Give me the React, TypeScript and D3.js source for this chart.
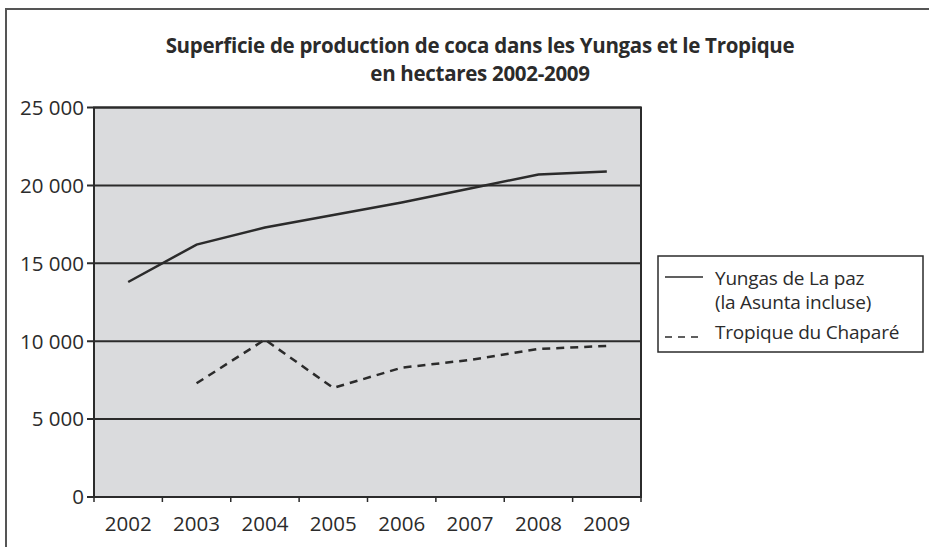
import React from "react";
import * as d3 from "d3";

const years = ["2002", "2003", "2004", "2005", "2006", "2007", "2008", "2009"];
const yungas: (number | null)[] = [13800, 16200, 17300, 18100, 18900, 19800, 20700, 20900];
const chapare: (number | null)[] = [null, 7300, 10100, 7000, 8300, 8800, 9500, 9700];
const yTicks = [0, 5000, 10000, 15000, 20000, 25000];

const W = 929;
const H = 547;
const FONT = "'Open Sans', 'Noto Sans', sans-serif";
const INK = "#2b2b2b";

const fmt = (v: number) => (v >= 1000 ? `${Math.floor(v / 1000)} ${String(v % 1000).padStart(3, "0")}` : `${v}`);

export default function App() {
  const x = d3.scaleBand<string>().domain(years).range([94, 641]).padding(0);
  const y = d3.scaleLinear().domain([0, 25000]).range([497, 107.5]);
  const cx = (yr: string) => (x(yr) ?? 0) + x.bandwidth() / 2;

  const line = d3
    .line<number | null>()
    .defined((d) => d != null)
    .x((_d, i) => cx(years[i]))
    .y((d) => y(d as number));

  return (
    <svg width={W} height={H} style={{ position: "absolute", left: 0, top: 0, background: "#fff" }}>
      {/* outer frame */}
      <path d={`M6,${H} V9 H${W}`} fill="none" stroke="#555" strokeWidth={2} />

      <g fontFamily={FONT} fontWeight="bold" fontSize={20.5} fill={INK} letterSpacing={-0.3} textAnchor="middle">
        <text x={480} y={53}>Superficie de production de coca dans les Yungas et le Tropique</text>
        <text x={480} y={81}>en hectares 2002-2009</text>
      </g>

      <rect x={94} y={y(25000)} width={641 - 94} height={y(0) - y(25000)} fill="#dadbdd" stroke={INK} strokeWidth={2} />

      {yTicks.map((t) => (
        <g key={t}>
          <line x1={87} x2={641} y1={y(t)} y2={y(t)} stroke={INK} strokeWidth={2} />
          <text x={84} y={y(t)} dy="0.36em" textAnchor="end" fontFamily={FONT} fontSize={20.5} fill={INK}>
            {fmt(t)}
          </text>
        </g>
      ))}

      {years.map((yr) => (
        <g key={yr}>
          <line x1={x(yr)} x2={x(yr)} y1={y(0)} y2={y(0) + 5} stroke={INK} strokeWidth={1.5} />
          <text x={cx(yr)} y={531} textAnchor="middle" fontFamily={FONT} fontSize={20.5} fill={INK}>
            {yr}
          </text>
        </g>
      ))}
      <line x1={641} x2={641} y1={y(0)} y2={y(0) + 5} stroke={INK} strokeWidth={1.5} />

      <path d={line(yungas) ?? ""} fill="none" stroke={INK} strokeWidth={2.5} />
      <path d={line(chapare) ?? ""} fill="none" stroke={INK} strokeWidth={2.5} strokeDasharray="8 6" />

      {/* legend */}
      <rect x={658} y={256} width={265} height={96} fill="#fff" stroke={INK} strokeWidth={1.5} />
      <line x1={665} x2={703} y1={277} y2={277} stroke={INK} strokeWidth={1.5} />
      <line x1={665} x2={703} y1={337} y2={337} stroke={INK} strokeWidth={1.5} strokeDasharray="7 6" />
      <g fontFamily={FONT} fontSize={19} fill={INK} letterSpacing={-0.2}>
        <text x={715} y={278} dy="0.36em">Yungas de La paz</text>
        <text x={715} y={302} dy="0.36em">(la Asunta incluse)</text>
        <text x={715} y={332} dy="0.36em">Tropique du Chaparé</text>
      </g>
    </svg>
  );
}
